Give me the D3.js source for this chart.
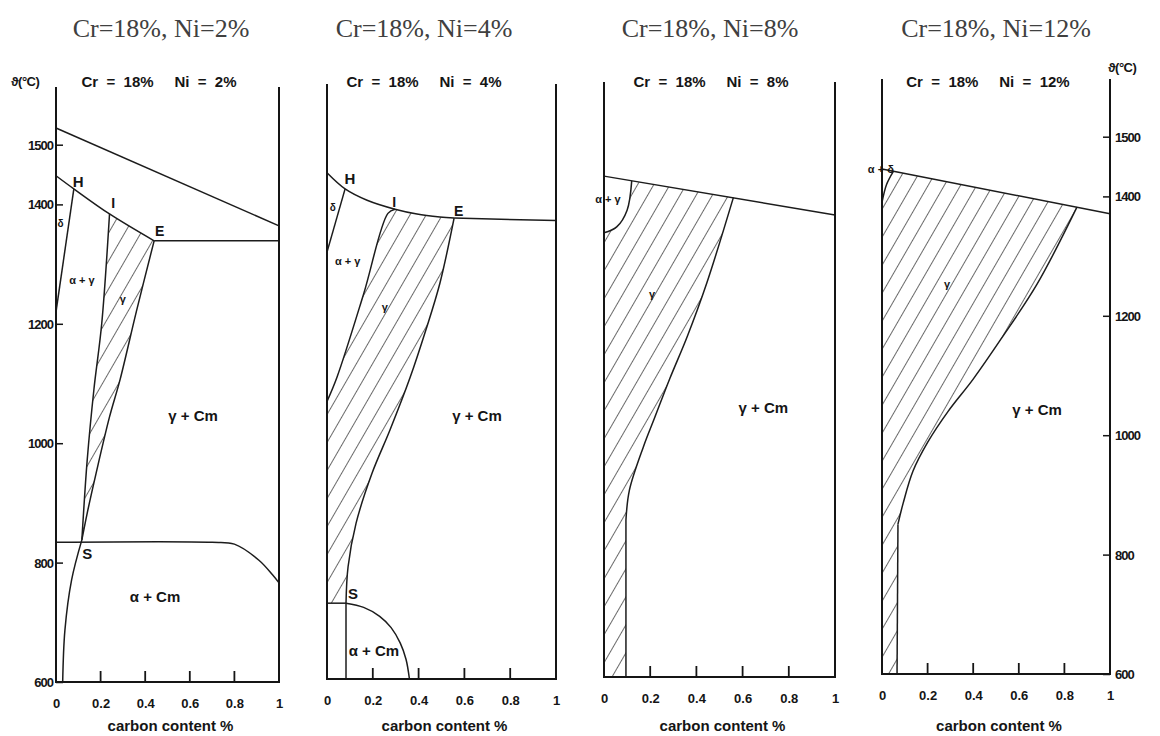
<!DOCTYPE html>
<html>
<head>
<meta charset="utf-8">
<script src="https://cdn.jsdelivr.net/npm/d3@7"></script>
<style>
  body { margin: 0; background: #ffffff; }
  svg { display: block; }
</style>
</head>
<body>
<svg id="chart" width="1160" height="736"></svg>
<script>
// ---- Fe-Cr-Ni-C vertical sections (Cr = 18 %), carbon content vs temperature ----

const panelTitles = ["Cr=18%, Ni=2%", "Cr=18%, Ni=4%", "Cr=18%, Ni=8%", "Cr=18%, Ni=12%"];
const panelHeads  = ["Cr  =  18%     Ni  =  2%", "Cr  =  18%     Ni  =  4%", "Cr  =  18%     Ni  =  8%", "Cr  =  18%     Ni  =  12%"];
const tempTicks   = [600, 800, 1000, 1200, 1400, 1500];
const carbonTicks = [0, 0.2, 0.4, 0.6, 0.8, 1];
const carbonTickLabels = ["0", "0.2", "0.4", "0.6", "0.8", "1"];
const tempAxisLabel = "\u03D1(°C)";
const carbonAxisLabel = "carbon content %";

// Boundaries as [carbon %, temperature °C]
// Ni = 2 %
const ni2Liquidus   = [[0, 1528], [1, 1364]];
const ni2Solidus    = [[0, 1448], [0.08, 1426], [0.24, 1384], [0.44, 1339]];
const ni2Eutectic   = [[0.44, 1339], [1, 1339]];
const ni2Delta      = [[0.08, 1426], [0, 1220]];
const ni2GammaLeft  = [[0.24, 1384], [0.205, 1200], [0.17, 1090], [0.14, 972], [0.116, 838]];
const ni2GammaRight = [[0.44, 1339], [0.36, 1220], [0.287, 1106], [0.24, 1044], [0.18, 950], [0.14, 883], [0.116, 838]];
const ni2AlphaLine  = [[0.116, 838], [0.07, 771], [0.04, 687], [0.03, 600]];
const ni2Eutectoid  = [[0, 834], [0.7, 834], [0.8, 831], [0.91, 804], [0.97, 780], [1, 766]];
const ni2Labels = [["H", 0.099, 1429, 15], ["I", 0.256, 1394, 14], ["E", 0.465, 1347, 14], ["\u03B4", 0.02, 1362, 10],
                   ["\u03B1 + \u03B3", 0.116, 1267, 11], ["\u03B3", 0.30, 1235, 11], ["\u03B3 + Cm", 0.615, 1037, 15],
                   ["S", 0.14, 806, 15], ["\u03B1 + Cm", 0.444, 734, 15]];

// Ni = 4 %
const ni4Solidus    = [[0, 1448], [0.079, 1421], [0.175, 1402], [0.297, 1387], [0.393, 1379], [0.493, 1374], [0.555, 1372]];
const ni4Eutectic   = [[0.555, 1372], [1, 1368]];
const ni4Delta      = [[0.079, 1421], [0, 1315]];
const ni4GammaLeft  = [[0.297, 1387], [0.266, 1380], [0.16, 1245], [0.044, 1106], [0, 1065]];
const ni4GammaRight = [[0.555, 1372], [0.493, 1263], [0.432, 1185], [0.362, 1104], [0.275, 1017],
                       [0.197, 945], [0.127, 861], [0.092, 788], [0.083, 727]];
const ni4PearliteEdge = [[0.083, 727], [0.083, 600]];
const ni4Eutectoid  = [[0, 727], [0.083, 727]];
const ni4AlphaArc   = [[0.083, 727], [0.16, 720], [0.23, 705], [0.28, 686], [0.32, 660], [0.345, 633], [0.36, 600]];
const ni4Labels = [["H", 0.10, 1429, 15], ["I", 0.293, 1391, 14], ["E", 0.575, 1376, 14], ["\u03B4", 0.025, 1384, 10],
                   ["\u03B1 + \u03B3", 0.09, 1293, 11], ["\u03B3", 0.253, 1216, 11], ["\u03B3 + Cm", 0.655, 1032, 15],
                   ["S", 0.114, 734, 15], ["\u03B1 + Cm", 0.205, 639, 15]];

// Ni = 8 %
const ni8Solidus    = [[0, 1439], [1, 1374]];
const ni8AlphaGamma = [[0, 1344], [0.055, 1354], [0.1, 1382], [0.12, 1431]];
const ni8GammaRight = [[0.56, 1403], [0.445, 1260], [0.36, 1170], [0.285, 1100], [0.22, 1035], [0.17, 985],
                       [0.11, 913], [0.095, 863]];
const ni8GammaEdge  = [[0.095, 863], [0.095, 600]];
const ni8Labels = [["\u03B1 + \u03B3", 0.017, 1394, 11], ["\u03B3", 0.208, 1235, 11], ["\u03B3 + Cm", 0.69, 1042, 15]];

// Ni = 12 %
const ni12Solidus    = [[0, 1446], [1, 1371]];
const ni12AlphaDelta = [[0, 1390], [0.02, 1420], [0.05, 1442]];
const ni12GammaRight = [[0.855, 1382], [0.68, 1253], [0.52, 1160], [0.4, 1094], [0.29, 1040], [0.2, 988],
                        [0.136, 940], [0.092, 885], [0.07, 851]];
const ni12GammaEdge  = [[0.07, 851], [0.066, 600]];
const ni12Labels = [["\u03B1 + \u03B4", -0.005, 1439, 11], ["\u03B3", 0.285, 1246, 11], ["\u03B3 + Cm", 0.68, 1034, 15]];

// ---- layout ----
const frames = [
  { x0: 56,  x1: 279,  yb: 682, titleX: 161, headX: 159 },
  { x0: 327, x1: 556,  yb: 679, titleX: 424, headX: 424 },
  { x0: 604, x1: 835,  yb: 677, titleX: 710, headX: 711 },
  { x0: 882, x1: 1110, yb: 674, titleX: 996, headX: 988 }
];
const pxPerDegree = 0.597;
const frameTop = 1595;

const panels = [
  {
    lines: [
      { pts: ni2Liquidus }, { pts: ni2Solidus, curve: true }, { pts: ni2Eutectic },
      { pts: ni2Delta }, { pts: ni2GammaLeft, curve: true }, { pts: ni2GammaRight, curve: true },
      { pts: ni2AlphaLine, curve: true }, { pts: ni2Eutectoid, curve: true }
    ],
    hatch: [
      { pts: ni2Solidus.slice(2), curve: true },
      { pts: ni2GammaRight, curve: true },
      { pts: ni2GammaLeft.slice().reverse(), curve: true }
    ],
    labels: ni2Labels
  },
  {
    lines: [
      { pts: ni4Solidus, curve: true }, { pts: ni4Eutectic }, { pts: ni4Delta },
      { pts: ni4GammaLeft, curve: true }, { pts: ni4GammaRight, curve: true },
      { pts: ni4PearliteEdge }, { pts: ni4Eutectoid }, { pts: ni4AlphaArc, curve: true }
    ],
    hatch: [
      { pts: ni4Solidus.slice(3), curve: true },
      { pts: ni4GammaRight, curve: true },
      { pts: [[0.083, 727], [0, 727], [0, 1065]] },
      { pts: ni4GammaLeft.slice().reverse(), curve: true }
    ],
    labels: ni4Labels
  },
  {
    lines: [
      { pts: ni8Solidus }, { pts: ni8AlphaGamma, curve: true },
      { pts: ni8GammaRight, curve: true }, { pts: ni8GammaEdge }
    ],
    hatch: [
      { pts: ni8AlphaGamma, curve: true },
      { pts: [[0.12, 1431], [0.56, 1403]] },
      { pts: ni8GammaRight, curve: true },
      { pts: [[0.095, 863], [0.095, 600], [0, 600]] }
    ],
    labels: ni8Labels
  },
  {
    lines: [
      { pts: ni12Solidus }, { pts: ni12AlphaDelta, curve: true },
      { pts: ni12GammaRight, curve: true }, { pts: ni12GammaEdge }
    ],
    hatch: [
      { pts: ni12AlphaDelta, curve: true },
      { pts: [[0.05, 1442], [0.855, 1382]] },
      { pts: ni12GammaRight, curve: true },
      { pts: [[0.07, 851], [0.066, 600], [0, 600]] }
    ],
    labels: ni12Labels
  }
];

const svg = d3.select("#chart");
const sans = "'Liberation Sans', Arial, sans-serif";
const ink = "#151515";

// diagonal hatching for the austenite field
const defs = svg.append("defs");
defs.append("pattern")
  .attr("id", "hatch")
  .attr("patternUnits", "userSpaceOnUse")
  .attr("width", 14).attr("height", 14)
  .attr("patternTransform", "rotate(30)")
  .append("line")
  .attr("x1", 0).attr("y1", 0).attr("x2", 0).attr("y2", 14)
  .attr("stroke", "#1a1a1a").attr("stroke-width", 1.3);

panels.forEach((p, i) => {
  const f = frames[i];
  const x = d3.scaleLinear().domain([0, 1]).range([f.x0, f.x1]);
  const y = d3.scaleLinear().domain([600, 1600]).range([f.yb, f.yb - 1000 * pxPerDegree]);
  const g = svg.append("g");

  const lineOf = curve => d3.line()
    .x(d => x(d[0])).y(d => y(d[1]))
    .curve(curve ? d3.curveCatmullRom.alpha(0.5) : d3.curveLinear);

  // hatched austenite region: chain of boundary segments, closed
  const hatchPath = p.hatch.map((seg, k) => {
    const s = lineOf(seg.curve)(seg.pts);
    return k === 0 ? s : "L" + s.slice(1);
  }).join("") + "Z";
  g.append("path").attr("d", hatchPath).attr("fill", "url(#hatch)").attr("stroke", "none");

  // phase boundaries
  g.selectAll("path.boundary").data(p.lines).join("path")
    .attr("class", "boundary")
    .attr("d", d => lineOf(d.curve)(d.pts))
    .attr("fill", "none")
    .attr("stroke", "#1c1c1c")
    .attr("stroke-width", 1.5)
    .attr("stroke-linejoin", "round");

  // frame: left, right, bottom
  [[0, 600, 0, frameTop], [1, 600, 1, frameTop], [0, 600, 1, 600]].forEach(([c1, t1, c2, t2]) => {
    g.append("line")
      .attr("x1", x(c1)).attr("y1", y(t1)).attr("x2", x(c2)).attr("y2", y(t2))
      .attr("stroke", ink).attr("stroke-width", 2).attr("stroke-linecap", "square");
  });

  // carbon axis ticks and labels
  const xAxis = d3.axisBottom(x).tickValues(carbonTicks)
    .tickFormat((d, k) => carbonTickLabels[k]).tickSize(0).tickPadding(17);
  const xa = g.append("g").attr("transform", `translate(0,${y(600)})`).call(xAxis);
  xa.select(".domain").remove();
  xa.selectAll("text").attr("font-family", sans).attr("font-weight", "bold")
    .attr("font-size", 13).attr("fill", ink);
  g.selectAll("line.ctick").data(carbonTicks.filter(d => d > 0 && d < 1)).join("line")
    .attr("class", "ctick")
    .attr("x1", d => x(d)).attr("x2", d => x(d))
    .attr("y1", y(600)).attr("y2", y(600) - 11)
    .attr("stroke", ink).attr("stroke-width", 1.8);

  g.append("text")
    .attr("x", (f.x0 + f.x1) / 2 + 3).attr("y", 731)
    .attr("text-anchor", "middle")
    .attr("font-family", sans).attr("font-weight", "bold").attr("font-size", 15).attr("fill", ink)
    .text(carbonAxisLabel);

  // temperature axis on the outer panels
  if (i === 0) {
    const ya = g.append("g").attr("transform", `translate(${x(0)},0)`)
      .call(d3.axisRight(y).tickValues(tempTicks).tickSize(7).tickFormat(""));
    ya.select(".domain").remove();
    ya.selectAll("line").attr("stroke", ink).attr("stroke-width", 1.5);
    g.selectAll("text.tl").data(tempTicks).join("text")
      .attr("class", "tl")
      .attr("x", x(0) - 3).attr("y", d => y(d) + 5)
      .attr("text-anchor", "end")
      .attr("font-family", sans).attr("font-weight", "bold").attr("font-size", 13).attr("fill", ink)
      .attr("letter-spacing", -1)
      .text(d => d);
    g.append("text").attr("x", 11).attr("y", 86)
      .attr("font-family", sans).attr("font-weight", "bold").attr("font-size", 13).attr("fill", ink)
      .attr("letter-spacing", -0.5)
      .text(tempAxisLabel);
  }
  if (i === 3) {
    const ya = g.append("g").attr("transform", `translate(${x(1)},0)`)
      .call(d3.axisLeft(y).tickValues(tempTicks).tickSize(7).tickFormat(""));
    ya.select(".domain").remove();
    ya.selectAll("line").attr("stroke", ink).attr("stroke-width", 1.5);
    g.selectAll("text.tr").data(tempTicks).join("text")
      .attr("class", "tr")
      .attr("x", x(1) + 5).attr("y", d => y(d) + 5)
      .attr("text-anchor", "start")
      .attr("font-family", sans).attr("font-weight", "bold").attr("font-size", 13).attr("fill", ink)
      .attr("letter-spacing", -1)
      .text(d => d);
    g.append("text").attr("x", 1108).attr("y", 72)
      .attr("font-family", sans).attr("font-weight", "bold").attr("font-size", 13).attr("fill", ink)
      .attr("letter-spacing", -0.5)
      .text(tempAxisLabel);
  }

  // phase field labels
  g.selectAll("text.phase").data(p.labels).join("text")
    .attr("class", "phase")
    .attr("x", d => x(d[1])).attr("y", d => y(d[2]))
    .attr("text-anchor", "middle")
    .attr("font-family", sans).attr("font-weight", "bold")
    .attr("font-size", d => d[3]).attr("fill", ink)
    .text(d => d[0]);

  // in-frame heading and page title
  g.append("text")
    .attr("x", f.headX).attr("y", 87)
    .attr("text-anchor", "middle")
    .attr("font-family", sans).attr("font-weight", "bold").attr("font-size", 15).attr("fill", ink)
    .attr("xml:space", "preserve")
    .style("white-space", "pre")
    .text(panelHeads[i]);

  svg.append("text")
    .attr("x", f.titleX).attr("y", 37)
    .attr("text-anchor", "middle")
    .attr("font-family", "'Liberation Serif', 'Times New Roman', serif")
    .attr("font-size", 26).attr("fill", "#404040")
    .text(panelTitles[i]);
});
</script>
</body>
</html>
